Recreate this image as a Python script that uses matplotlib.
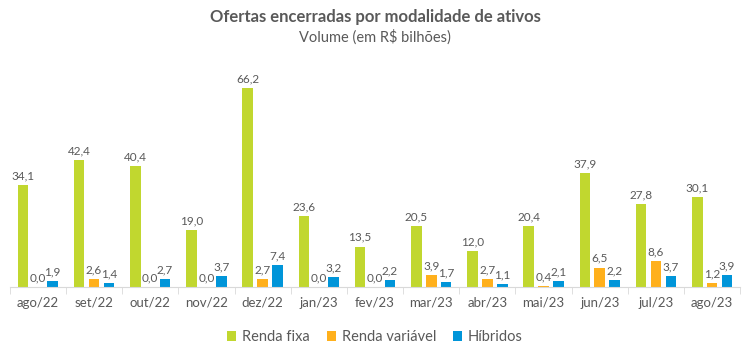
import matplotlib
matplotlib.use("Agg")
import matplotlib.pyplot as plt
import numpy as np

categories = ["ago/22", "set/22", "out/22", "nov/22", "dez/22", "jan/23", "fev/23",
              "mar/23", "abr/23", "mai/23", "jun/23", "jul/23", "ago/23"]
renda_fixa = [34.1, 42.4, 40.4, 19.0, 66.2, 23.6, 13.5, 20.5, 12.0, 20.4, 37.9, 27.8, 30.1]
renda_variavel = [0.0, 2.6, 0.0, 0.0, 2.7, 0.0, 0.0, 3.9, 2.7, 0.4, 6.5, 8.6, 1.2]
hibridos = [1.9, 1.4, 2.7, 3.7, 7.4, 3.2, 2.2, 1.7, 1.1, 2.1, 2.2, 3.7, 3.9]

series = [("Renda fixa", renda_fixa, "#C1D72F"),
          ("Renda variável", renda_variavel, "#FFB01C"),
          ("Híbridos", hibridos, "#0095D9")]

plt.rcParams['font.family'] = ['Lato', 'DejaVu Sans']
txt = "#595959"

fig = plt.figure(figsize=(7.5, 3.55), dpi=100)
ax = fig.add_axes([0.013, 0.1915, 0.974, 0.5915])
x = np.arange(len(categories))
w = 0.19
step = 0.265
for i, (name, vals, col) in enumerate(series):
    xs = x + (i - 1) * step
    ax.bar(xs, vals, width=w, color=col, label=name)
    for xi, v in zip(xs, vals):
        ax.text(xi, v + 1.2, f"{v:.1f}".replace(".", ","), ha="center", va="bottom",
                fontsize=8.5, color=txt)

ax.set_xlim(-0.5, len(categories) - 0.5)
ax.set_ylim(0, 70)
ax.set_yticks([])
for s in ["top", "right", "left"]:
    ax.spines[s].set_visible(False)
ax.spines["bottom"].set_color("#D9D9D9")
ax.set_xticks(x)
ax.set_xticklabels(categories, fontsize=9.5, color=txt)
ax.tick_params(axis="x", length=0, pad=7)
ax.set_xticks(np.arange(-0.5, len(categories), 1), minor=True)
ax.tick_params(axis="x", which="minor", length=5, color="#D9D9D9")

fig.text(0.5, 0.952, "Ofertas encerradas por modalidade de ativos", ha="center", va="center",
         fontsize=12, fontweight="bold", color=txt)
fig.text(0.5, 0.896, "Volume (em R$ bilhões)", ha="center", va="center",
         fontsize=10.5, color=txt)

fig.legend(loc="center", bbox_to_anchor=(0.5, 0.05), ncol=3, frameon=False,
           fontsize=10.5, handlelength=0.6, handleheight=0.6, handletextpad=0.4,
           columnspacing=1.2, labelcolor=txt)

fig.savefig("out.png", dpi=100)
